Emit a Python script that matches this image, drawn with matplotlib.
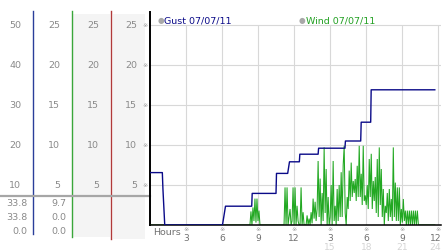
import numpy as np
import matplotlib
matplotlib.use("Agg")
import matplotlib.pyplot as plt
from matplotlib import transforms

# ---------------- data ----------------
# Gust (col-1 scale, 0-50) as (hour, value) vertices of a stepped line
gust_hours = [0.0, 1.05, 1.10, 1.25, 6.05, 6.30, 8.48, 8.52, 10.50, 10.54,
              11.47, 11.62, 12.44, 12.48, 14.00, 14.04, 16.23, 16.27, 17.54,
              17.58, 18.37, 18.41, 23.70]
gust_values = [13.1, 13.1, 9.0, 0.0, 0.0, 4.7, 4.7, 7.9, 7.9, 12.9,
               12.9, 15.8, 15.8, 17.7, 17.7, 19.2, 19.2, 21.0, 21.0,
               25.7, 25.7, 33.8, 33.8]

# Wind (0-25 scale), 5-minute samples starting at 08:00
wind_start = 8.0
wind_step_min = 5
wind_values = [
    0, 0, 0, 0, 0, 1.7, 0, 2.2, 0.5, 3.3, 0.3, 3.3,              # 8h
    0.5, 1.8, 0, 0, 0, 0, 0, 0, 0, 0, 0, 0,                      # 9h
    0, 0, 0, 0, 0, 0, 0, 0, 0, 0, 0, 0,                          # 10h
    0, 0, 0, 4.7, 0, 4.7, 0, 1.0, 2.0, 0, 0.5, 4.7,              # 11h
    0, 4.7, 0, 2.4, 0.5, 0, 0, 4.7, 0, 1.6, 0, 0,                # 12h
    0, 1.2, 0, 0.8, 0, 1.6, 0.2, 3.3, 0.8, 2.9, 0.5, 2.0,        # 13h
    8.0, 1.0, 5.8, 0, 4.0, 0.5, 9.7, 1.5, 7.0, 0, 3.5, 0,        # 14h
    1.0, 5.0, 0, 8.0, 0.5, 2.4, 0, 4.5, 0.5, 5.0, 1.0, 6.6,      # 15h
    1.0, 7.5, 9.9, 1.5, 0, 3.5, 2.0, 6.8, 3.0, 7.8, 3.5, 5.5,    # 16h
    4.0, 5.75, 3.0, 7.4, 3.5, 9.9, 3.5, 6.4, 2.5, 9.9, 3.0, 3.7, # 17h
    2.5, 5.0, 2.0, 8.25, 3.5, 8.9, 2.0, 5.5, 3.0, 6.0, 1.5, 8.25,  # 18h
    1.0, 9.7, 2.5, 7.0, 1.0, 4.5, 0, 2.4, 1.5, 4.0, 0.5, 4.5,    # 19h
    1.0, 3.25, 0.5, 9.7, 1.0, 5.3, 0.5, 4.7, 0.5, 4.7, 0, 2.0,   # 20h
    0.3, 3.25, 0.5, 1.8, 0, 1.8, 0, 1.8, 0, 1.8, 0, 1.8,         # 21h
    0, 1.8, 0, 1.8, 0, 0,                                       # 22h
]
wind_end_hour = 23.7

col1_labels = [50, 40, 30, 20, 10]
col_labels = [25, 20, 15, 10, 5]
col1_stats = ["33.8", "33.8", "0.0"]
col2_stats = ["9.7", "0.0", "0.0"]

x_ticks = [3, 6, 9, 12, 15, 18, 21, 24]
x_labels = ["3", "6", "9", "12", "3", "6", "9", "12"]
x_labels2 = ["", "", "", "", "15", "18", "21", "24"]

legend_gust = "Gust 07/07/11"
legend_wind = "Wind 07/07/11"

# ---------------- figure ----------------
FW, FH = 442, 253
fig = plt.figure(figsize=(FW / 100, FH / 100), dpi=100)
fig.patch.set_facecolor("white")

L, R, T, Bp = 149.7, 440.7, 13.0, 226.0
PX_PER_H = 12.03
ax = fig.add_axes([L / FW, (FH - Bp) / FH, (R - L) / FW, (Bp - T) / FH])
ax.set_xlim(0, (R - L) / PX_PER_H)
ax.set_ylim(0, (Bp - T) / 8.0)
ax.set_facecolor("none")
for s in ["top", "right"]:
    ax.spines[s].set_visible(False)
ax.spines["left"].set_linewidth(1.4)
ax.spines["left"].set_color("black")
ax.spines["bottom"].set_linewidth(1.1)
ax.spines["bottom"].set_color("black")
ax.spines["bottom"].set_zorder(6)
ax.set_xticks([])
ax.set_yticks([])

gridc = "#d8d8d8"
ax.vlines(x_ticks, 0, 25, colors=gridc, lw=0.8, zorder=1)
ax.hlines(col_labels, 0, ax.get_xlim()[1], colors=gridc, lw=0.8, zorder=1)

ax2 = ax.twinx()
ax2.set_ylim(0, 2 * ax.get_ylim()[1])
ax2.axis("off")

wind_hours = wind_start + np.arange(len(wind_values)) * wind_step_min / 60.0
wx = np.concatenate([[0.0], wind_hours, [wind_end_hour]])
wy = np.concatenate([[0.0], wind_values, [0.0]])
ax.plot(wx, wy, color="#22a822", lw=0.75, zorder=3, solid_joinstyle="miter")
ax2.plot(gust_hours, gust_values, color="#0a0a88", lw=1.0, zorder=4)

# helper transforms
def fx(px):
    return px / FW

def fy(py):
    return 1 - py / FH

fig_y_data = transforms.blended_transform_factory(fig.transFigure, ax.transData)
data_x_fig = transforms.blended_transform_factory(ax.transData, fig.transFigure)

# ---------------- left panels ----------------
bg = fig.add_axes([0, 0, 1, 1], zorder=-5)
bg.set_xlim(0, FW)
bg.set_ylim(FH, 0)
bg.axis("off")
bg.add_patch(plt.Rectangle((73, 15), 37, 223, color="#f4f4f4", lw=0))
bg.add_patch(plt.Rectangle((113, 15), 32, 225, color="#f4f4f4", lw=0))
bg.plot([33.3, 33.3], [12, 235], color="#2a3f9a", lw=1.0)
bg.plot([72.3, 72.3], [12, 238], color="#3aa63a", lw=1.0)
bg.plot([111.3, 111.3], [12, 240], color="#b03a3a", lw=1.0)
bg.plot([0, 149.7], [196.7, 196.7], color="#a6a6a6", lw=1.6)

tc = "#8a8a8a"
fs = 6.8
mark_fs = 4.5
for v in col1_labels:
    fig.text(fx(21), v / 2, str(v), transform=fig_y_data, ha="right",
             va="center", fontsize=fs, color=tc)
for v in col_labels:
    for xr in (60, 99, 137):
        fig.text(fx(xr), v, str(v), transform=fig_y_data, ha="right",
                 va="center", fontsize=fs, color=tc)
    fig.text(fx(145.5), v, "\u203b", transform=fig_y_data, ha="center",
             va="center", fontsize=mark_fs, color="#9a9a9a")

for i, (a, b) in enumerate(zip(col1_stats, col2_stats)):
    yy = [204, 218, 232][i]
    fig.text(fx(27), fy(yy), a, ha="right", va="center", fontsize=fs, color=tc)
    fig.text(fx(66), fy(yy), b, ha="right", va="center", fontsize=fs, color=tc)

# ---------------- x labels ----------------
fig.text(fx(153), fy(232.5), "Hours", ha="left", va="center", fontsize=fs,
         color="#707070")
xfs = 6.6
for h, l1, l2 in zip(x_ticks, x_labels, x_labels2):
    last = h == x_ticks[-1]
    if last:
        fig.text(fx(438.5), fy(230), "\u203b", ha="center", va="center",
                 fontsize=mark_fs, color="#9a9a9a")
        fig.text(fx(441.5), fy(239), l1, ha="right", va="center",
                 fontsize=xfs, color="#707070")
    else:
        fig.text(h, fy(230), "\u203b", transform=data_x_fig, ha="center",
                 va="center", fontsize=mark_fs, color="#9a9a9a")
        fig.text(h, fy(239), l1, transform=data_x_fig, ha="center",
                 va="center", fontsize=xfs, color="#707070")
    if l2:
        if last:
            fig.text(fx(441.5), fy(247.5), l2, ha="right", va="center",
                     fontsize=xfs, color="#d4d4d4")
        else:
            fig.text(h, fy(247.5), l2, transform=data_x_fig, ha="center",
                     va="center", fontsize=xfs, color="#d4d4d4")

# ---------------- legend ----------------
fig.text(fx(160.7), fy(20.7), "\u25cf", ha="center", va="center",
         fontsize=5.5, color="#a8a8a8")
fig.text(fx(164), fy(20.7), legend_gust, ha="left", va="center",
         fontsize=fs, color="#0a0a88")
fig.text(fx(302.3), fy(20.7), "\u25cf", ha="center", va="center",
         fontsize=5.5, color="#a8a8a8")
fig.text(fx(305.7), fy(20.7), legend_wind, ha="left", va="center",
         fontsize=fs, color="#22a022")

fig.savefig("out.png", dpi=100, facecolor="white")
